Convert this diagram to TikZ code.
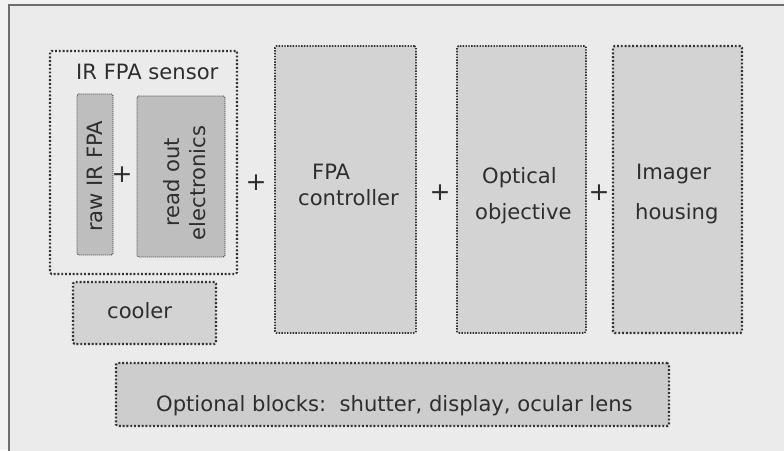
\documentclass[tikz,border=0pt]{standalone}
\usepackage{fontspec}
\setmainfont{DejaVu Sans}
\definecolor{pagebg}{HTML}{F2F2F2}
\definecolor{panelbg}{HTML}{EBEBEB}
\definecolor{framec}{HTML}{6E6E6E}
\definecolor{dotc}{HTML}{333333}
\definecolor{boxc}{HTML}{D3D3D3}
\definecolor{innerc}{HTML}{BEBEBE}
\definecolor{txtc}{HTML}{2E2E2E}
\tikzset{
  blk/.style={draw=dotc, fill=boxc, line width=2.1pt, dash pattern=on 1.9pt off 1.9pt,
    rounded corners=1.5pt, inner sep=0pt, outer sep=0pt, anchor=north west},
  midblk/.style={blk, line width=1.6pt, dash pattern=on 1.4pt off 1.4pt},
  thinblk/.style={blk, fill=innerc, line width=0.9pt, dash pattern=on 1pt off 1pt},
  groupblk/.style={blk, fill=none},
  lbl/.style={text=txtc, inner sep=0pt, font=\fontsize{21.1}{25}\selectfont},
  plus/.style={text=txtc, inner sep=0pt, font=\fontsize{25}{30}\selectfont, anchor=center},
}
\begin{document}
\begin{tikzpicture}[x=1pt,y=-1pt]
\useasboundingbox (0,0) rectangle (784,450);
\clip (0,0) rectangle (784,450);
\fill[pagebg] (0,0) rectangle (784,450);
\draw[framec, fill=panelbg, line width=2.4pt] (9,5) rectangle (830,490);

% sensor group and its parts
\node[groupblk, minimum width=187pt, minimum height=223pt] (sensor) at (50,51) {};
\node[lbl, anchor=base west] (sensorT) at (76,79) {IR FPA sensor};
\node[thinblk, minimum width=36pt, minimum height=161pt] (raw) at (77,94) {};
\node[lbl, anchor=base west, rotate=90] (rawT) at (102.5,232) {raw IR FPA};
\node[thinblk, minimum width=88pt, minimum height=161pt] (readout) at (137,96) {};
\node[lbl, anchor=base west, rotate=90] (readT) at (179,227) {read out};
\node[lbl, anchor=base west, rotate=90] (elecT) at (205,240.5) {electronics};
\node[plus] (p1) at (122,175) {+};

% cooler
\node[blk, minimum width=143pt, minimum height=62pt] (cooler) at (73,282) {};
\node[lbl, anchor=base west] (coolerT) at (107,318) {cooler};

% main chain
\node[plus] (p2) at (256,183) {+};
\node[midblk, minimum width=141pt, minimum height=287pt] (ctrl) at (275,46) {};
\node[lbl, anchor=base west] (ctrlA) at (312,179) {FPA};
\node[lbl, anchor=base west] (ctrlB) at (298,205) {controller};
\node[plus] (p3) at (440,193) {+};
\node[midblk, minimum width=129pt, minimum height=287pt] (optic) at (457,46) {};
\node[lbl, anchor=base west] (opticA) at (482,183.5) {Optical};
\node[lbl, anchor=base west] (opticB) at (475,219) {objective};
\node[plus] (p4) at (599,193) {+};
\node[blk, minimum width=129pt, minimum height=287pt] (housing) at (613,46) {};
\node[lbl, anchor=base west] (housingA) at (636,179.5) {Imager};
\node[lbl, anchor=base west] (housingB) at (635,219) {housing};

% optional extras
\node[blk, fill=boxc!97!black, minimum width=553pt, minimum height=63pt] (optional) at (116,363) {};
\node[lbl, anchor=base west] (optionalT) at (156,411) {Optional blocks:\ \ shutter, display, ocular lens};
\end{tikzpicture}
\end{document}
